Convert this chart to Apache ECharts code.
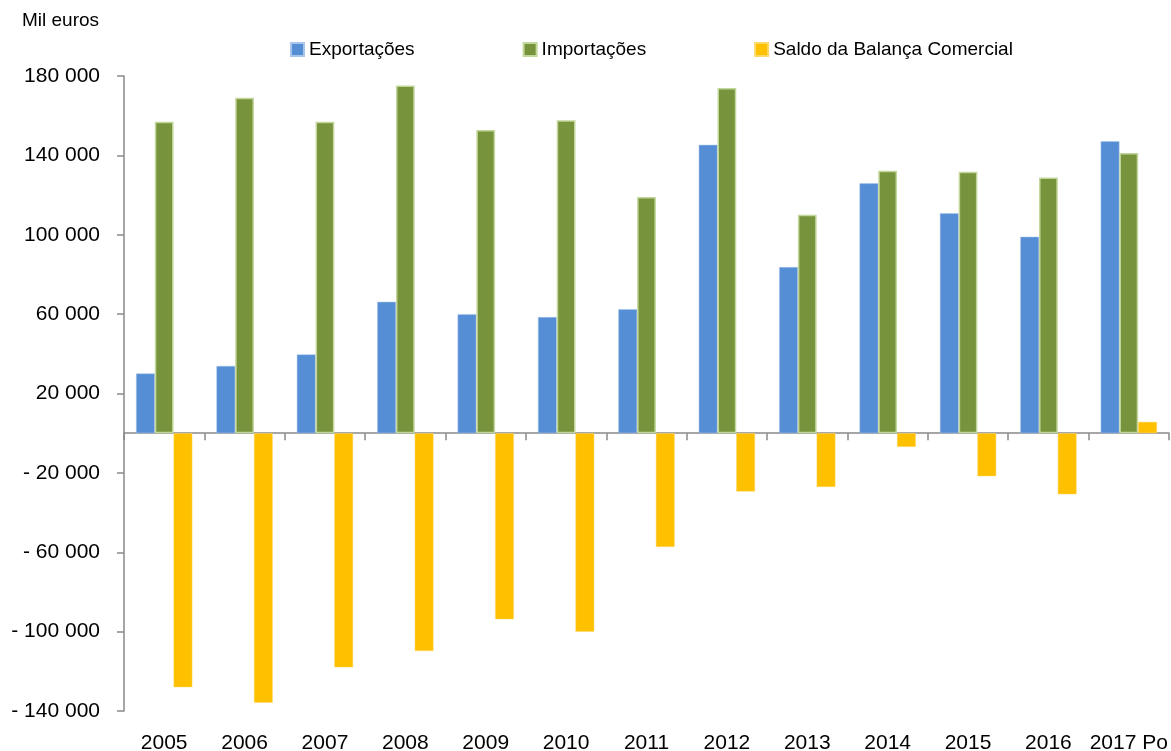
<!DOCTYPE html>
<html>
<head>
<meta charset="utf-8">
<script src="https://cdn.jsdelivr.net/npm/echarts@6/dist/echarts.min.js"></script>
<style>
  html, body { margin: 0; padding: 0; background: #fff; }
  #chart { width: 1171px; height: 751px; }
</style>
</head>
<body>
<div id="chart"></div>
<script>
  // dados (mil euros)
  const categories = ['2005', '2006', '2007', '2008', '2009', '2010', '2011', '2012', '2013', '2014', '2015', '2016', '2017 Po'];
  const exportacoes = [30100, 33900, 39700, 66200, 60000, 58500, 62500, 145300, 83700, 125900, 110800, 99000, 147100];
  const importacoes = [157000, 169000, 156900, 175200, 152800, 157700, 119000, 173900, 110100, 132200, 131800, 128800, 141200];
  const saldo = [-128000, -135800, -118000, -109800, -93800, -100000, -57300, -29400, -27100, -6900, -21700, -30800, 5700];
  const yTicks = [-140000, -100000, -60000, -20000, 20000, 60000, 100000, 140000, 180000];

  const FONT = '"Liberation Sans", Arial, sans-serif';
  const AXIS_GREY = '#898989';

  function fmt(v) {
    let s = String(Math.abs(v)).replace(/\B(?=(\d{3})+(?!\d))/g, ' ');
    return v < 0 ? '- ' + s : s;
  }

  let myChart = echarts.init(document.getElementById('chart'));
  let option = {
    animation: false,
    textStyle: { fontFamily: FONT },
    title: {
      text: 'Mil euros',
      left: 22,
      top: 11,
      padding: 0,
      textStyle: { fontFamily: FONT, fontSize: 19, fontWeight: 'normal', color: '#000' }
    },
    legend: {
      left: 285,
      top: 35,
      itemWidth: 13,
      itemHeight: 13,
      itemGap: 108,
      icon: 'rect',
      textStyle: { fontFamily: FONT, fontSize: 19, color: '#000' },
      data: ['Exportações', 'Importações', 'Saldo da Balança Comercial']
    },
    grid: {
      left: 124,
      right: 2,
      top: 76,
      bottom: 40,
      containLabel: false,
      outerBoundsMode: 'none'
    },
    xAxis: [
      {
        // linha do zero com as marcas entre categorias
        type: 'category',
        data: categories,
        position: 'bottom',
        axisLine: { show: true, onZero: true, lineStyle: { color: AXIS_GREY, width: 1.5 } },
        axisTick: { show: true, length: 7, lineStyle: { color: AXIS_GREY, width: 1.5 } },
        axisLabel: { show: false }
      },
      {
        // etiquetas dos anos no fundo
        type: 'category',
        data: categories,
        position: 'bottom',
        axisLine: { show: false, onZero: false },
        axisTick: { show: false },
        axisLabel: { show: true, interval: 0, margin: 22, fontFamily: FONT, fontSize: 21, color: '#000' }
      }
    ],
    yAxis: {
      type: 'value',
      min: -140000,
      max: 180000,
      interval: 20000,
      axisLine: { show: true, lineStyle: { color: AXIS_GREY, width: 1.5 } },
      axisTick: { show: true, length: 7, customValues: yTicks, lineStyle: { color: AXIS_GREY, width: 1.5 } },
      axisLabel: {
        customValues: yTicks,
        margin: 24,
        fontFamily: FONT,
        fontSize: 21,
        color: '#000',
        formatter: fmt
      },
      splitLine: { show: false }
    },
    series: [
      {
        name: 'Exportações',
        type: 'bar',
        data: exportacoes,
        barGap: '0%',
        barCategoryGap: '30%',
        itemStyle: { color: '#558ED5', borderColor: '#A9C6EA', borderWidth: 0.5 }
      },
      {
        name: 'Importações',
        type: 'bar',
        data: importacoes,
        barGap: '0%',
        barCategoryGap: '30%',
        itemStyle: { color: '#77933C', borderColor: '#C3D69B', borderWidth: 1.5 }
      },
      {
        name: 'Saldo da Balança Comercial',
        type: 'bar',
        data: saldo,
        barGap: '0%',
        barCategoryGap: '30%',
        itemStyle: { color: '#FFC000', borderColor: '#FFD966', borderWidth: 0.5 }
      }
    ]
  };
  // desenhar
  myChart.setOption(option);
</script>
</body>
</html>
